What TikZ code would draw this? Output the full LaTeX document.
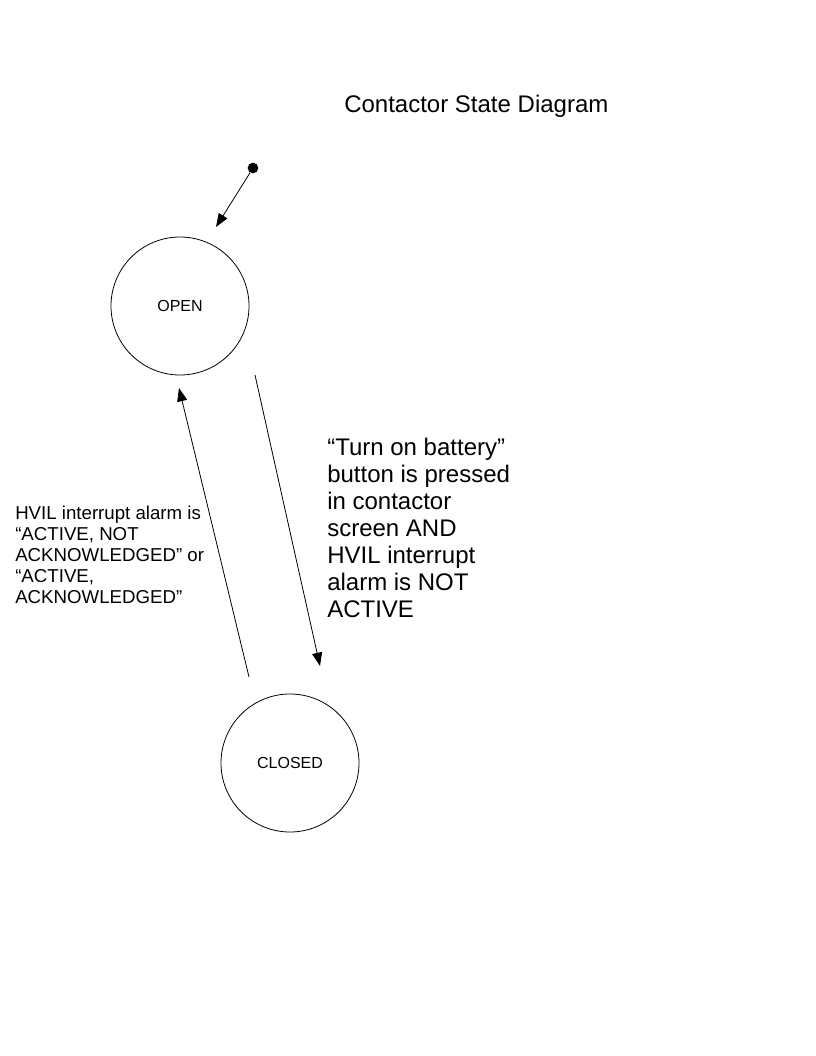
\documentclass[tikz,border=0pt]{standalone}
\usepackage{fontspec}
\setmainfont{Liberation Sans}
\usetikzlibrary{arrows.meta}

\begin{document}
\begin{tikzpicture}[x=0.75pt,y=-0.75pt]
\tikzset{state/.style = {shape=circle,draw,line width=0.6pt,minimum size=103.5pt,inner sep=0pt,font=\fontsize{12}{14}\selectfont}}
\tikzset{initdot/.style = {shape=circle,fill,minimum size=8pt,inner sep=0pt}}
\tikzset{edge/.style = {-{Triangle[length=10pt,width=7.5pt]},line width=0.6pt}}
\tikzset{note/.style = {anchor=north west,align=left,inner sep=0pt}}
\useasboundingbox (0,0) rectangle (816,1056);
% title
\node[anchor=base west,inner sep=0pt,font=\fontsize{18}{20}\selectfont] (title) at (344,113) {Contactor State Diagram};
% vertices
\node[initdot] (init) at (253,168) {};
\node[state] (open) at (180,306) {OPEN};
\node[state] (closed) at (290,763) {CLOSED};
% edge ends
\coordinate (init end) at (216,227);
\coordinate (oc start) at (255,375);
\coordinate (oc end) at (320,666);
\coordinate (co start) at (249,677);
\coordinate (co end) at (179,388);
% edges
\draw[edge] (init) -- (init end);
\draw[edge] (oc start) -- (oc end);
\draw[edge] (co start) -- (co end);
% labels
\node[note,font=\fontsize{18}{20.25}\selectfont] (close cond) at (327,438)
  {“Turn on battery”\\button is pressed\\in contactor\\screen AND\\HVIL interrupt\\alarm is NOT\\ACTIVE};
\node[note,font=\fontsize{14}{15.6}\selectfont] (open cond) at (15,506)
  {HVIL interrupt alarm is\\“ACTIVE, NOT\\ACKNOWLEDGED” or\\“ACTIVE,\\ACKNOWLEDGED”};
\end{tikzpicture}
\end{document}
